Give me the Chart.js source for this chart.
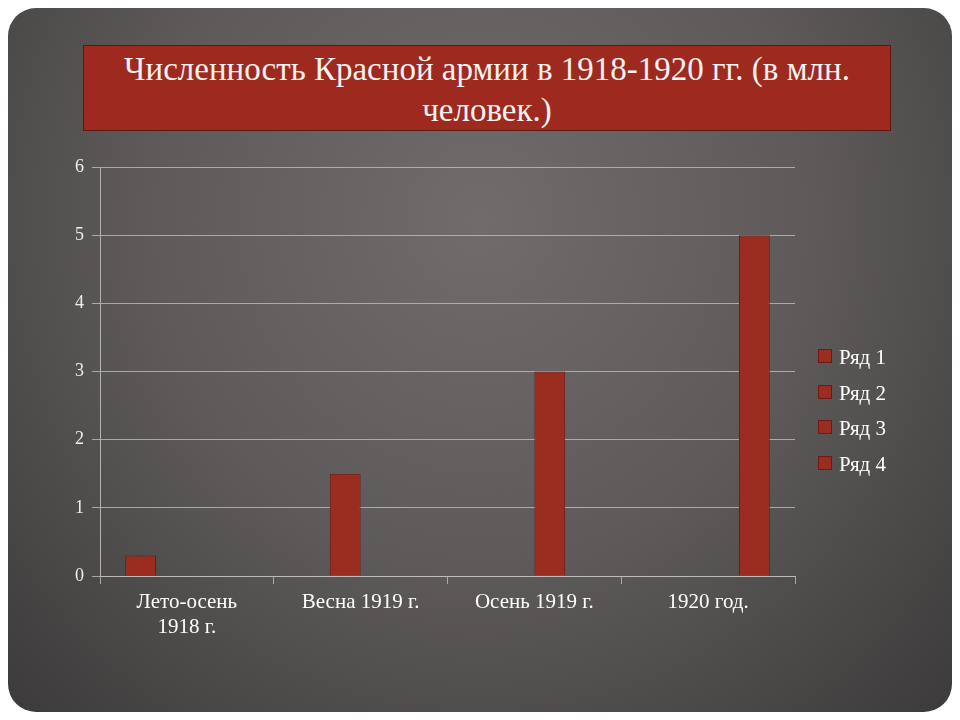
<!DOCTYPE html>
<html><head><meta charset="utf-8">
<script src="https://cdn.jsdelivr.net/npm/chart.js"></script>
<style>
body{margin:0;width:960px;height:720px;background:#fff;position:relative;overflow:hidden;font-family:"Liberation Serif","DejaVu Serif",serif}
#bg{position:absolute;left:8px;top:8px;width:944px;height:704px;border-radius:28px;background:radial-gradient(ellipse at 50% 30%,#716c6c 0%,#5e5a5a 50%,#3c3a3a 100%)}
#title{position:absolute;left:83px;top:45px;width:808px;height:86px;background:#9e2a1f;border:1px solid #5e1710;color:#f2f2f2;font-size:33px;text-align:center;line-height:41px;padding-top:3px;box-sizing:border-box}
#c{position:absolute;left:0;top:0}
#legend{position:absolute;left:818px;top:340px;color:#fff;font-size:21px;line-height:35.5px}
#legend span{display:inline-block;width:12px;height:12px;background:#9b2d20;border:1px solid #6e1a12;margin-right:7px;vertical-align:1px}
</style></head><body>
<div id="bg"></div>
<div id="title">Численность Красной армии в 1918-1920 гг. (в млн.<br>человек.)</div>
<canvas id="c" width="960" height="720"></canvas>
<div id="legend"></div>
<script>
const categories=[["Лето-осень","1918 г."],"Весна 1919 г.","Осень 1919 г.","1920 год."];
const seriesNames=["Ряд 1","Ряд 2","Ряд 3","Ряд 4"];
const series1=[0.3,null,null,null];
const series2=[null,1.5,null,null];
const series3=[null,null,3,null];
const series4=[null,null,null,5];
const yTicks=[0,1,2,3,4,5,6];
const all=[series1,series2,series3,series4];
document.getElementById('legend').innerHTML=seriesNames.map(n=>'<div><span></span>'+n+'</div>').join('');
new Chart(document.getElementById('c'),{type:'bar',
data:{labels:categories,datasets:all.map((d,i)=>({label:seriesNames[i],data:d,backgroundColor:'#9b2d20',borderColor:'#6e1a12',borderWidth:1,barPercentage:1,categoryPercentage:0.71}))},
options:{responsive:false,animation:false,layout:{padding:{left:60,top:167,right:165,bottom:0}},
plugins:{legend:{display:false},tooltip:{enabled:false}},
scales:{
x:{afterFit:s=>{s.height=144},grid:{color:'rgba(190,190,190,0.8)',drawOnChartArea:false,tickLength:8},border:{color:'rgba(190,190,190,0.9)'},ticks:{color:'#fff',font:{family:'Liberation Serif',size:21},padding:6}},
y:{min:0,max:6,afterFit:s=>{s.width=40},afterBuildTicks:s=>{s.ticks=yTicks.map(v=>({value:v}))},grid:{color:'rgba(190,190,190,0.8)',tickLength:8},border:{color:'rgba(190,190,190,0.9)'},ticks:{color:'#eee',font:{family:'Liberation Serif',size:18},padding:8}}
}}});
</script></body></html>
